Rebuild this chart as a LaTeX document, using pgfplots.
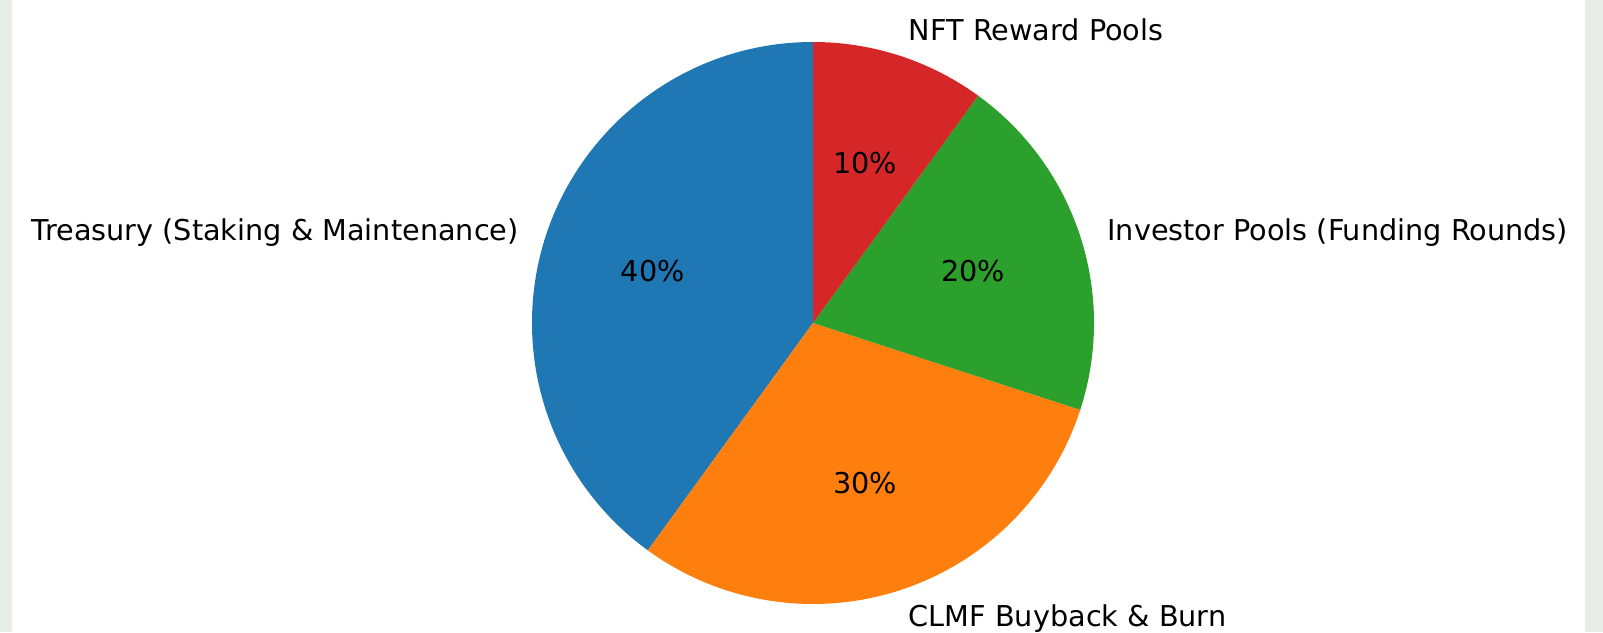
\documentclass[border=0pt]{standalone}
\usepackage{pgfplots}
\pgfplotsset{compat=1.18}
\usepackage{fontspec}
\setmainfont{DejaVu Sans}
\definecolor{tabblue}{HTML}{1F77B4}
\definecolor{taborange}{HTML}{FF7F0E}
\definecolor{tabgreen}{HTML}{2CA02C}
\definecolor{tabred}{HTML}{D62728}
\definecolor{frame}{HTML}{E9EDE9}
\begin{document}
\begin{tikzpicture}
\begin{axis}[
  scale only axis, width=801.5pt, height=316pt,
  xmin=0, xmax=1603, ymin=0, ymax=632,
  hide axis, clip=false,
]
% background and side strips
\fill[white] (axis cs:0,0) rectangle (axis cs:1603,632);
\fill[frame] (axis cs:0,0) rectangle (axis cs:12,632);
\fill[frame] (axis cs:1585,0) rectangle (axis cs:1603,632);
% slices: Treasury 40, CLMF 30, Investor 20, NFT 10 (start 90, counterclockwise)
\fill[tabblue] (axis cs:813,309) -- ++(90:140.5pt) arc[start angle=90, end angle={90+3.6*40}, radius=140.5pt] -- cycle;
\fill[taborange] (axis cs:813,309) -- ++({90+3.6*40}:140.5pt) arc[start angle={90+3.6*40}, end angle={90+3.6*70}, radius=140.5pt] -- cycle;
\fill[tabgreen] (axis cs:813,309) -- ++({90+3.6*70}:140.5pt) arc[start angle={90+3.6*70}, end angle={90+3.6*90}, radius=140.5pt] -- cycle;
\fill[tabred] (axis cs:813,309) -- ++({90+3.6*90}:140.5pt) arc[start angle={90+3.6*90}, end angle={90+3.6*100}, radius=140.5pt] -- cycle;
% percent labels at 0.6 r
\tikzset{lbl/.style={font=\fontsize{14.35}{17}\selectfont, inner sep=0pt, text=black}}
\node[lbl] at (axis cs:{813+168.6*cos(162)},{309+168.6*sin(162)}) {40\%};
\node[lbl] at (axis cs:{813+168.6*cos(288)},{309+168.6*sin(288)}) {30\%};
\node[lbl] at (axis cs:{813+168.6*cos(18)},{309+168.6*sin(18)}) {20\%};
\node[lbl] at (axis cs:{813+168.6*cos(72)},{309+168.6*sin(72)}) {10\%};
% category labels at 1.1 r
\node[lbl, anchor=east] at (axis cs:{813+309.1*cos(162)},{309+309.1*sin(162)-5}) {Treasury (Staking \& Maintenance)};
\node[lbl, anchor=west] at (axis cs:{813+309.1*cos(288)},{309+309.1*sin(288)-2}) {CLMF Buyback \& Burn};
\node[lbl, anchor=west] at (axis cs:{813+309.1*cos(18)},{309+309.1*sin(18)-5}) {Investor Pools (Funding Rounds)};
\node[lbl, anchor=west] at (axis cs:{813+309.1*cos(72)},{309+309.1*sin(72)-1}) {NFT Reward Pools};
\end{axis}
\end{tikzpicture}
\end{document}
